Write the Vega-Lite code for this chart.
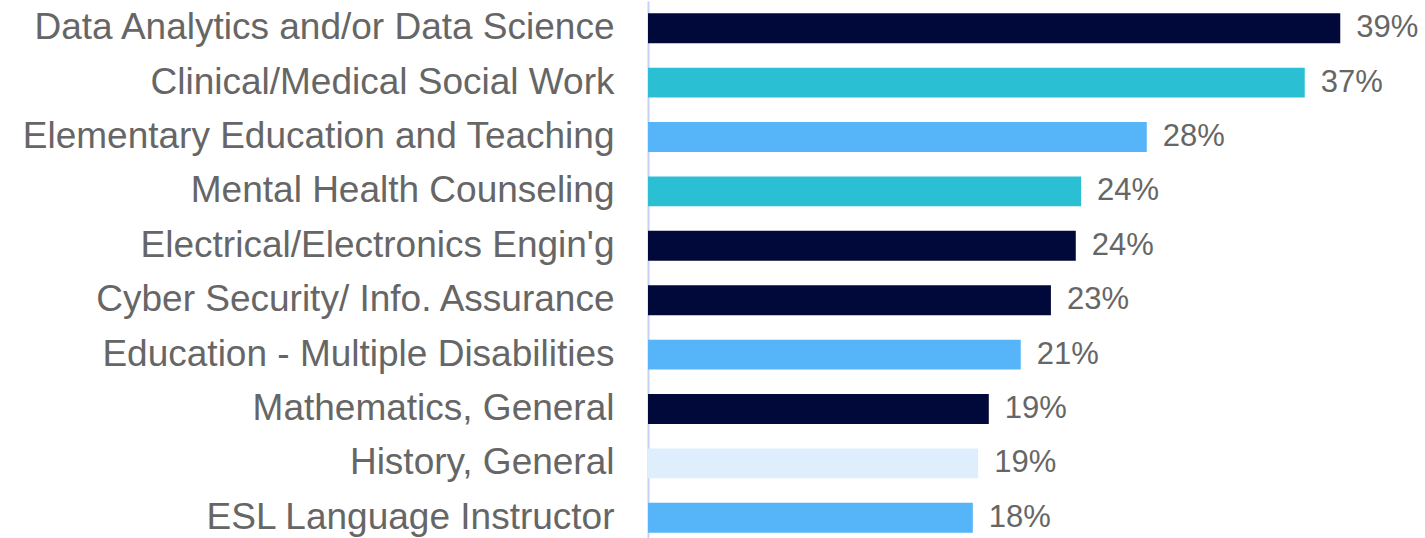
{
  "$schema": "https://vega.github.io/schema/vega-lite/v6.json",
  "autosize": "none",
  "width": 710,
  "height": 544,
  "padding": {"left": 648, "top": 1, "right": 67, "bottom": 0},
  "background": "white",
  "config": {"view": {"stroke": null}, "font": "Liberation Sans"},
  "data": {"values": [
    {"major": "Data Analytics and/or Data Science", "value": 39.0, "label": "39%", "group": "Technology"},
    {"major": "Clinical/Medical Social Work", "value": 37.0, "label": "37%", "group": "Health"},
    {"major": "Elementary Education and Teaching", "value": 28.1, "label": "28%", "group": "Education"},
    {"major": "Mental Health Counseling", "value": 24.4, "label": "24%", "group": "Health"},
    {"major": "Electrical/Electronics Engin'g", "value": 24.1, "label": "24%", "group": "Technology"},
    {"major": "Cyber Security/ Info. Assurance", "value": 22.7, "label": "23%", "group": "Technology"},
    {"major": "Education - Multiple Disabilities", "value": 21.0, "label": "21%", "group": "Education"},
    {"major": "Mathematics, General", "value": 19.2, "label": "19%", "group": "Technology"},
    {"major": "History, General", "value": 18.6, "label": "19%", "group": "Humanities"},
    {"major": "ESL Language Instructor", "value": 18.3, "label": "18%", "group": "Education"}
  ]},
  "encoding": {
    "y": {"field": "major", "type": "nominal", "sort": null,
      "scale": {"paddingInner": 0.45, "paddingOuter": 0.225},
      "axis": {"title": null, "ticks": false, "domainColor": "#c9d0f5", "domainWidth": 2,
        "labelFontSize": 37, "labelColor": "#666666", "labelPadding": 34, "labelLimit": 700}},
    "x": {"field": "value", "type": "quantitative", "scale": {"domain": [0, 40]}, "axis": null}
  },
  "layer": [
    {"mark": {"type": "bar", "cornerRadius": 0},
      "encoding": {"color": {"field": "group", "type": "nominal", "legend": null,
        "scale": {"domain": ["Technology", "Health", "Education", "Humanities"],
          "range": ["#00093a", "#2bbfd4", "#56b4f8", "#deeefc"]}}}},
    {"mark": {"type": "text", "align": "left", "baseline": "middle", "dx": 16, "fontSize": 31, "color": "#666666"},
      "encoding": {"text": {"field": "label"}}}
  ]
}
